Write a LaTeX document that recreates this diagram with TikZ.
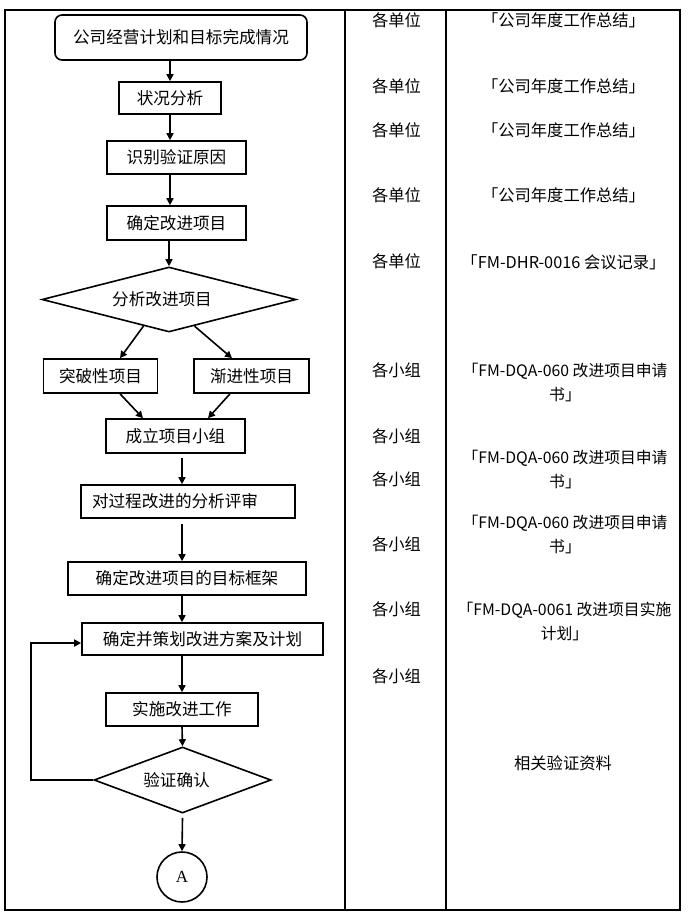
\documentclass[tikz,border=0pt]{standalone}
\usepackage{fontspec}
\setmainfont{Liberation Serif}
\newfontfamily\cjk{Noto Sans CJK SC}
\usetikzlibrary{shapes.geometric,arrows.meta,calc}
\begin{document}
\begin{tikzpicture}[x=1pt,y=-1pt,
  box/.style={draw,line width=1.6pt,inner sep=0pt,font=\cjk\fontsize{16.6}{19}\selectfont},
  dia/.style={draw,diamond,line width=1.6pt,inner sep=0pt,font=\cjk\fontsize{16.6}{19}\selectfont},
  arr/.style={line width=1.6pt,-{Triangle[length=7pt,width=7pt]}},
  tbl/.style={line width=1.2pt},
  ctext/.style={inner sep=0pt,align=center,font=\cjk\fontsize{16.3}{24}\selectfont},
  ftext/.style={inner sep=0pt,align=center,font=\cjk\fontsize{15.8}{24}\selectfont}]
\useasboundingbox (0,0) rectangle (693,918);
\fill[white] (0,0) rectangle (693,918);
% table
\draw[tbl] (5,10) rectangle (680,910);
\draw[tbl] (345,10) -- (345,910);
\draw[tbl] (446,10) -- (446,910);
% flowchart nodes
\node[box,rounded corners=7pt,minimum width=252pt,minimum height=45pt] (n1) at (181,37.5) {\raisebox{3pt}{公司经营计划和目标完成情况}};
\node[box,minimum width=102pt,minimum height=32pt] (n2) at (170,98) {状况分析};
\node[box,minimum width=139pt,minimum height=33pt] (n3) at (176.5,157.5) {识别验证原因};
\node[box,minimum width=139pt,minimum height=34pt] (n4) at (176.5,223) {确定改进项目};
\node[dia,aspect=3.9,minimum width=254pt,minimum height=65pt] (d1) at (169,299.5) {\hspace*{-14pt}分析改进项目};
\node[box,minimum width=114pt,minimum height=34pt] (n6) at (100.5,376) {突破性项目};
\node[box,minimum width=115pt,minimum height=34pt] (n7) at (251.5,376) {渐进性项目};
\node[box,minimum width=139pt,minimum height=34pt] (n8) at (175.5,436) {成立项目小组};
\node[box,minimum width=214pt,minimum height=33pt] (n9) at (188,501.5) {\hspace*{-26pt}对过程改进的分析评审};
\node[box,minimum width=238pt,minimum height=33pt] (n10) at (187,578.5) {确定改进项目的目标框架};
\node[box,minimum width=241pt,minimum height=32pt] (n11) at (202.5,639) {确定并策划改进方案及计划};
\node[box,minimum width=152pt,minimum height=33pt] (n12) at (182,709.5) {实施改进工作};
\node[dia,aspect=2.7,minimum width=177pt,minimum height=66pt] (d2) at (182.5,780) {\hspace*{-12pt}验证确认};
\node[draw,circle,line width=1.6pt,inner sep=0pt,minimum size=50pt,font=\fontsize{17}{20}\selectfont] (c) at (182,877) {A};
% connectors
\draw[arr] (n2.north |- n1.south) -- (n2.north);
\draw[arr] (n2.south) -- (n3.north -| n2.south);
\draw[arr] (n3.south -| n2.south) -- (n4.north -| n2.south);
\draw[arr] (n4.south -| d1.north) -- (d1.north);
\draw[arr] ($(d1.south)!0.2!(d1.west)$) -- ([xshift=19.5pt]n6.north);
\draw[arr] ($(d1.south)!0.2!(d1.east)$) -- ([xshift=-19.5pt]n7.north);
\draw[arr] ([xshift=19.5pt]n6.south) -- ([xshift=-32.5pt]n8.north);
\draw[arr] ([xshift=-21.5pt]n7.south) -- ([xshift=32.5pt]n8.north);
\draw[arr] ([yshift=-4pt]n8.south -| n12.north) -- (n9.north -| n12.north);
\draw[arr] ([yshift=-5pt]n9.south -| n12.north) -- (n10.north -| n12.north);
\draw[arr] (n10.south -| n12.north) -- (n11.north -| n12.north);
\draw[arr] (n11.south -| n12.north) -- (n12.north);
\draw[arr] (n12.south) -- (d2.north);
\draw[arr] ([yshift=-4pt]d2.south) -- (c.north);
\coordinate (lp) at (31,643);
\draw[arr] (d2.west) -| (lp) -- (lp -| n11.west);
% column 2
\foreach \y/\t [count=\i] in {20/各单位,86/各单位,130/各单位,195/各单位,261/各单位,370/各小组,436/各小组,479/各小组,544/各小组,609/各小组,676/各小组}
  \node[ctext] (u\i) at (396.5,\y) {\t};
% column 3
\node[ctext] (r1) at (563.5,20) {「公司年度工作总结」};
\node[ctext] (r2) at (563.5,86) {「公司年度工作总结」};
\node[ctext] (r3) at (563.5,130) {「公司年度工作总结」};
\node[ctext] (r4) at (563.5,195) {「公司年度工作总结」};
\node[ctext] (r5) at (563.5,262) {「FM-DHR-0016 会议记录」};
\node[ftext] (r6) at (565,382) {「FM-DQA-060 改进项目申请\\书」};
\node[ftext] (r7) at (565,469.5) {「FM-DQA-060 改进项目申请\\书」};
\node[ftext] (r8) at (565,534.5) {「FM-DQA-060 改进项目申请\\书」};
\node[ftext] (r9) at (564.5,621) {「FM-DQA-0061 改进项目实施\\计划」};
\node[ctext] (r10) at (563,763) {相关验证资料};
\end{tikzpicture}
\end{document}
